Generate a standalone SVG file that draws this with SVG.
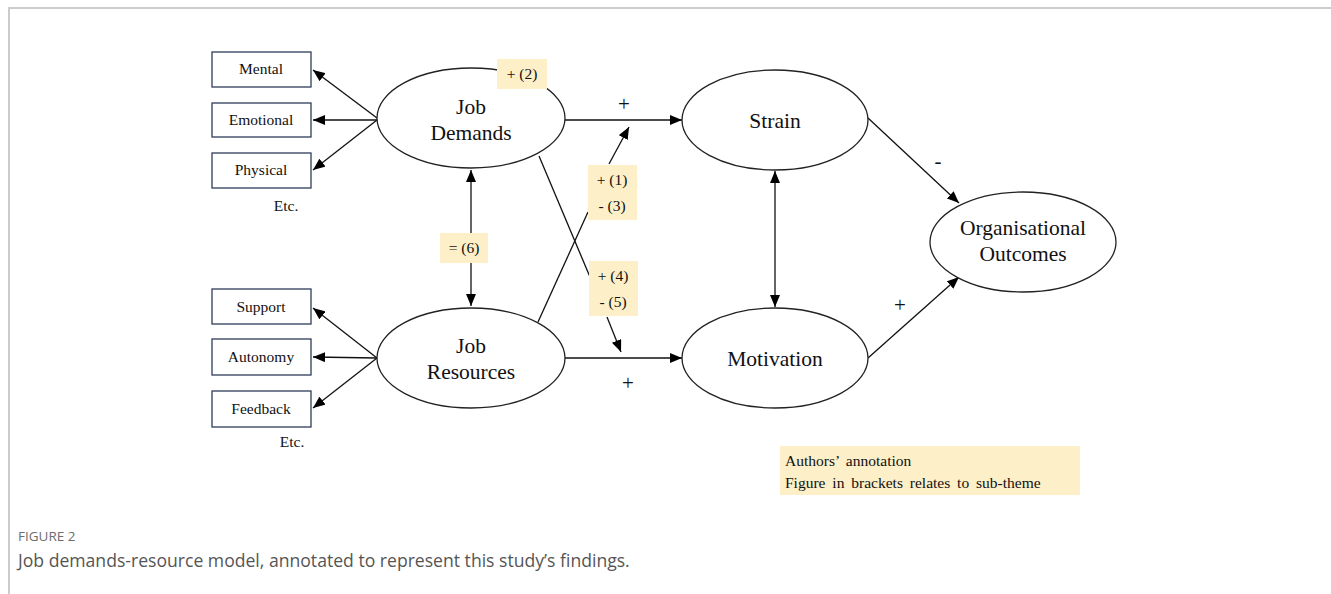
<svg xmlns="http://www.w3.org/2000/svg" width="1331" height="594" viewBox="0 0 1331 594">
<defs>
<marker id="ah" viewBox="0 0 12 10" refX="12" refY="5" markerWidth="12" markerHeight="10" markerUnits="userSpaceOnUse" orient="auto-start-reverse">
<path d="M0,0 L12,5 L0,10 Z" fill="#000"/>
</marker>
<style>
.frame{stroke:#cccccc;stroke-width:2;fill:none}
.ell{fill:#fff;stroke:#222;stroke-width:1.3}
.box{fill:#fff;stroke:#2f3c58;stroke-width:1.3}
.lab{fill:#fdefc8}
.c{stroke:#111;stroke-width:1.3;fill:none}
.ca{stroke:#111;stroke-width:1.3;fill:none;marker-end:url(#ah)}
.cb{stroke:#111;stroke-width:1.3;fill:none;marker-end:url(#ah);marker-start:url(#ah)}
.nt{font-family:"Liberation Serif",serif;font-size:21.5px;fill:#111;text-anchor:middle}
.bt{font-family:"Liberation Serif",serif;font-size:15.5px;fill:#111;text-anchor:middle}
.lt{font-family:"Liberation Serif",serif;font-size:15.5px;fill:#111;text-anchor:middle}
.st{font-family:"Liberation Serif",serif;font-size:21px;fill:#111;text-anchor:middle}
.at{font-family:"Liberation Serif",serif;font-size:15.5px;fill:#111;word-spacing:3px}
</style>
</defs>
<rect width="1331" height="594" fill="#fff"/>
<path class="frame" d="M9,594 V8 H1331"/>

<g id="connectors">
<line class="ca" x1="377" y1="118" x2="313" y2="70"/>
<line class="ca" x1="377" y1="120" x2="313" y2="120"/>
<line class="ca" x1="377" y1="120" x2="313" y2="170"/>
<line class="ca" x1="377" y1="358" x2="313" y2="308"/>
<line class="ca" x1="377" y1="358" x2="313" y2="357"/>
<line class="ca" x1="377" y1="358" x2="313" y2="408"/>
<line class="cb" x1="471" y1="170" x2="471" y2="306"/>
<line class="ca" x1="565" y1="120" x2="682" y2="120"/>
<line class="ca" x1="565" y1="358" x2="682" y2="358"/>
<line class="cb" x1="775" y1="171" x2="775" y2="307"/>
<line class="ca" x1="868" y1="118" x2="959" y2="203"/>
<line class="ca" x1="868" y1="358" x2="959" y2="277"/>
<line class="c" x1="539" y1="156" x2="590" y2="277"/>
<line class="ca" x1="607" y1="317" x2="621" y2="352"/>
<line class="c" x1="538" y1="322" x2="588" y2="212"/>
<line class="ca" x1="609" y1="164" x2="629" y2="127"/>
<text class="st" x="624" y="111">+</text>
<text class="st" x="628" y="390">+</text>
<text class="st" x="938" y="168">-</text>
<text class="st" x="900" y="312">+</text>
</g>

<g id="job-demands">
<ellipse class="ell" cx="471" cy="118" rx="94" ry="50"/>
<text class="nt" x="471" y="114">Job</text>
<text class="nt" x="471" y="140">Demands</text>
</g>
<g id="job-resources">
<ellipse class="ell" cx="471" cy="358" rx="94" ry="50"/>
<text class="nt" x="471" y="353">Job</text>
<text class="nt" x="471" y="379">Resources</text>
</g>
<g id="strain">
<ellipse class="ell" cx="775" cy="120" rx="93" ry="50"/>
<text class="nt" x="775" y="128">Strain</text>
</g>
<g id="motivation">
<ellipse class="ell" cx="775" cy="358" rx="93" ry="50"/>
<text class="nt" x="775" y="366">Motivation</text>
</g>
<g id="organisational-outcomes">
<ellipse class="ell" cx="1023" cy="242" rx="93" ry="50"/>
<text class="nt" x="1023" y="235">Organisational</text>
<text class="nt" x="1023" y="261">Outcomes</text>
</g>

<g id="label-2">
<rect class="lab" x="497" y="59" width="50" height="30"/>
<text class="lt" x="522" y="79">+ (2)</text>
</g>
<g id="label-6">
<rect class="lab" x="440" y="233" width="48" height="30"/>
<text class="lt" x="464" y="253">= (6)</text>
</g>
<g id="label-1-3">
<rect class="lab" x="588" y="165" width="49" height="55"/>
<text class="lt" x="612" y="185">+ (1)</text>
<text class="lt" x="612" y="211">- (3)</text>
</g>
<g id="label-4-5">
<rect class="lab" x="589" y="261" width="49" height="55"/>
<text class="lt" x="613" y="281">+ (4)</text>
<text class="lt" x="613" y="307">- (5)</text>
</g>

<g id="mental"><rect class="box" x="212" y="52" width="99" height="35"/><text class="bt" x="261" y="74">Mental</text></g>
<g id="emotional"><rect class="box" x="212" y="103" width="99" height="34"/><text class="bt" x="261" y="125">Emotional</text></g>
<g id="physical"><rect class="box" x="212" y="153" width="99" height="35"/><text class="bt" x="261" y="175">Physical</text></g>
<text class="bt" x="286" y="211">Etc.</text>
<g id="support"><rect class="box" x="212" y="289" width="99" height="35"/><text class="bt" x="261" y="312">Support</text></g>
<g id="autonomy"><rect class="box" x="212" y="339" width="99" height="36"/><text class="bt" x="261" y="362">Autonomy</text></g>
<g id="feedback"><rect class="box" x="212" y="391" width="99" height="36"/><text class="bt" x="261" y="414">Feedback</text></g>
<text class="bt" x="292" y="447">Etc.</text>

<g id="annotation">
<rect class="lab" x="780" y="446" width="300" height="49"/>
<text class="at" x="785" y="466">Authors’ annotation</text>
<text class="at" x="785" y="488">Figure in brackets relates to sub-theme</text>
</g>

<text x="18" y="541" font-family="'Open Sans',sans-serif" font-size="13.5" fill="#6d6d6d">FIGURE 2</text>
<text x="18" y="567" font-family="'Open Sans',sans-serif" font-size="17.6" fill="#555">Job demands-resource model, annotated to represent this study’s findings.</text>
</svg>
